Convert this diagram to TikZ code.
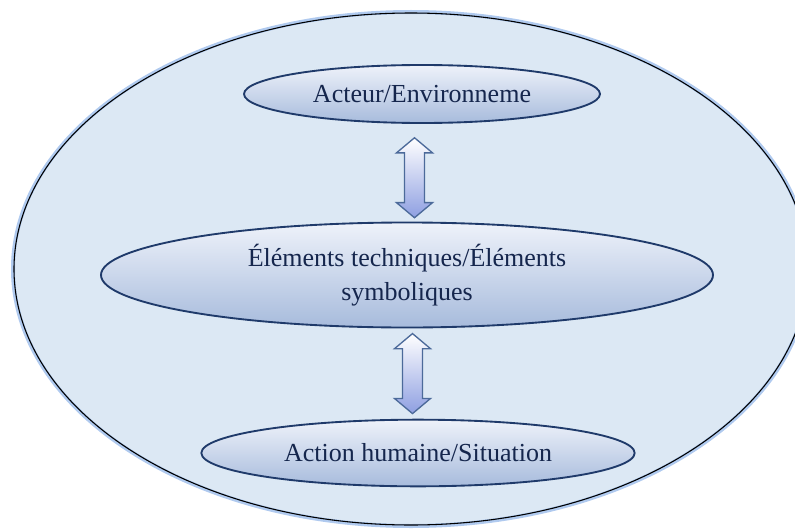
\documentclass[tikz,border=0pt]{standalone}
\usepackage{fontspec}
\setmainfont{Liberation Serif}
\usepackage{tikz}
\usetikzlibrary{positioning, shapes, calc, shadings}

\definecolor{fond}{HTML}{DCE8F4}
\definecolor{halo}{HTML}{8EB3E8}
\definecolor{trait}{HTML}{1F3A6A}
\definecolor{encre}{HTML}{15264D}
\definecolor{clair}{HTML}{EEF2FA}
\definecolor{fonce}{HTML}{A7BBDC}
\definecolor{bordfleche}{HTML}{4C6A9A}

\begin{document}
\begin{tikzpicture}
        [
            x=0.75pt, y=-0.75pt,
            bulle/.style={ellipse, draw=trait, line width=1.4pt,
                          top color=clair, bottom color=fonce,
                          text=encre, align=center, inner sep=0pt,
                          font=\fontsize{19.5}{26}\selectfont},
            fleche/.style={double arrow, draw=bordfleche, line width=1pt,
                           top color=white, bottom color=fonce!85!blue,
                           rotate=90, inner xsep=0pt, inner ysep=7pt,
                           double arrow head extend=6pt,
                           double arrow tip angle=100,
                           minimum height=60pt}
        ]
        \useasboundingbox (0,0) rectangle (795,528);
        \clip (0,0) rectangle (795,528);
        % cadre exterieur
        \node (cadre) [ellipse, fill=fond, minimum width=595.5pt,
                       minimum height=384pt, inner sep=0pt] at (411,269) {};
        \draw [halo, line width=3pt, opacity=0.7] (411,269) ellipse [x radius=398, y radius=257];
        \draw [black, line width=0.8pt] (411,269) ellipse [x radius=397, y radius=256];
        % les trois bulles
        \node (acteur) [bulle, minimum width=267pt, minimum height=43.5pt]
              at (422,94) {Acteur/Environneme};
        \node (elements) [bulle, minimum width=459pt, minimum height=78.75pt]
              at (407,275) {Éléments techniques/Éléments\\symboliques};
        \node (action) [bulle, minimum width=325pt, minimum height=50pt]
              at (418,453) {Action humaine/Situation};
        % fleches doubles
        \node (f1) [fleche] at ($(acteur.south)!0.5!(elements.north)+(0,5)$) {};
        \node (f2) [fleche] at ($(elements.south)!0.5!(action.north)$) {};
    \end{tikzpicture}
\end{document}
